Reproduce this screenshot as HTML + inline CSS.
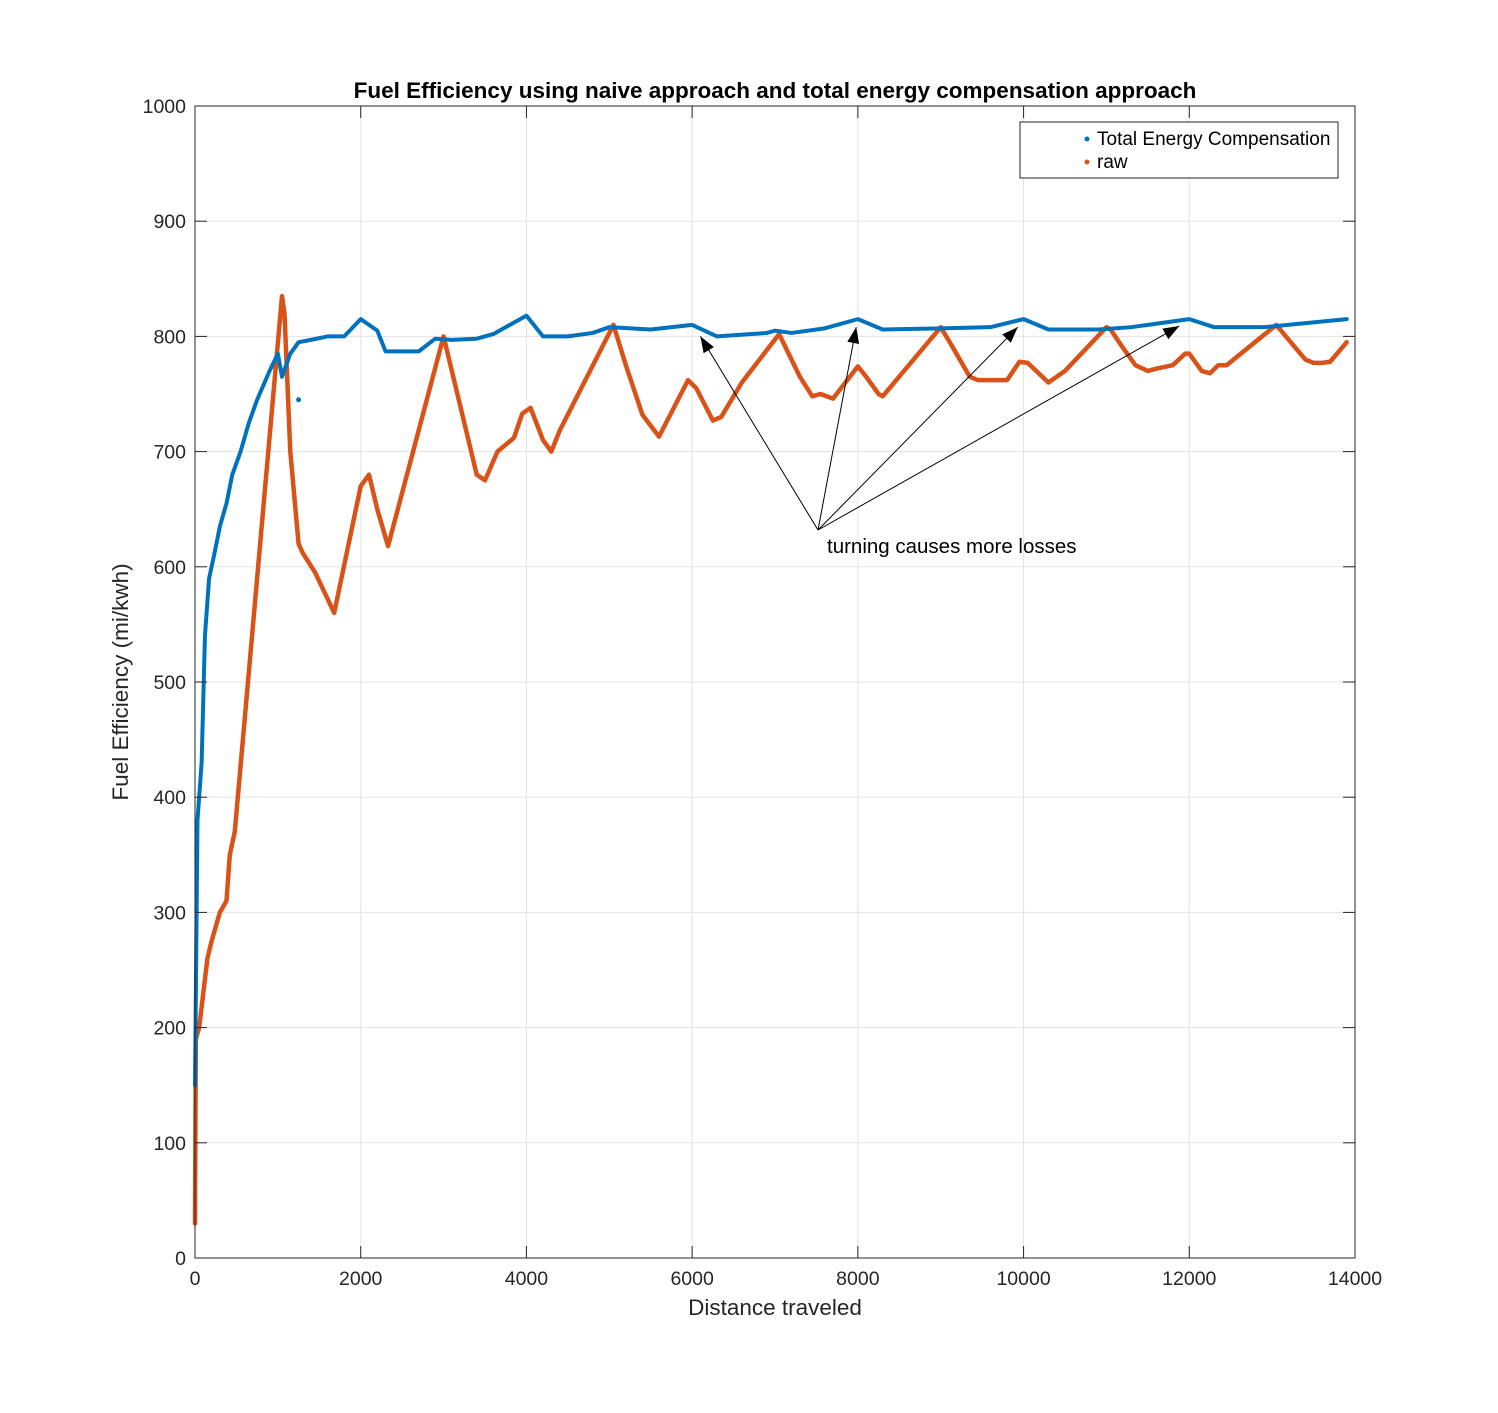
<!DOCTYPE html>
<html><head><meta charset="utf-8"><style>
body{margin:0;background:#fff;}
svg{display:block;font-family:"Liberation Sans",sans-serif;}
</style></head><body>
<svg id="chart" width="1498" height="1413" viewBox="0 0 1498 1413" xmlns="http://www.w3.org/2000/svg">
<rect x="0" y="0" width="1498" height="1413" fill="#fff"/>
<g id="grid"></g>
<g id="series"></g>
<rect x="195" y="106" width="1160" height="1152" fill="none" stroke="#262626" stroke-width="1"/>
<g id="ticks"></g>
<text x="775" y="98" text-anchor="middle" font-size="22.5" font-weight="bold" fill="#000">Fuel Efficiency using naive approach and total energy compensation approach</text>
<text x="775" y="1315" text-anchor="middle" font-size="22.5" fill="#262626">Distance traveled</text>
<text transform="translate(128,682) rotate(-90)" text-anchor="middle" font-size="22.5" fill="#262626">Fuel Efficiency (mi/kwh)</text>
<g id="annot"></g>
<text x="827" y="553" font-size="20.5" fill="#000">turning causes more losses</text>
<g>
<rect x="1020" y="122" width="318" height="56" fill="#fff" stroke="#262626" stroke-width="1"/>
<circle cx="1087" cy="139" r="2.5" fill="#0072bd"/>
<text x="1097" y="145" font-size="19" fill="#000">Total Energy Compensation</text>
<circle cx="1087" cy="162" r="2.5" fill="#d95319"/>
<text x="1097" y="168" font-size="19" fill="#000">raw</text>
</g>
</svg>
<script>
const xTicks=[0,2000,4000,6000,8000,10000,12000,14000];
const yTicks=[0,100,200,300,400,500,600,700,800,900,1000];
const rawX=[0,10,50,100,150,200,300,380,420,480,1050,1080,1150,1250,1300,1450,1680,2000,2100,2200,2330,3000,3200,3400,3500,3650,3850,3950,4050,4200,4300,4400,5050,5200,5400,5600,5950,6050,6250,6350,6600,7050,7300,7450,7550,7700,8000,8100,8250,8300,9000,9150,9350,9450,9800,9950,10050,10300,10500,11000,11050,11200,11350,11500,11600,11800,11950,12000,12150,12250,12350,12450,13050,13200,13400,13500,13600,13700,13900];
const rawY=[30,190,200,230,260,275,300,310,350,370,835,820,700,620,612,595,560,670,680,650,618,800,740,680,675,700,712,733,738,710,700,718,810,775,732,713,762,755,727,730,760,802,765,748,750,746,774,765,750,748,808,790,765,762,762,778,777,760,770,808,806,790,775,770,772,775,785,785,770,768,775,775,810,797,780,777,777,778,795];
const tecX=[0,30,80,120,170,230,300,380,450,550,650,750,900,1000,1050,1150,1250,1400,1600,1800,2000,2200,2300,2500,2700,2900,3100,3400,3600,3800,4000,4200,4500,4800,5000,5500,6000,6300,6900,7000,7200,7600,8000,8300,9000,9600,10000,10300,10900,11300,12000,12300,12900,13900];
const tecY=[150,380,430,540,590,610,635,655,680,700,725,745,770,785,765,785,795,797,800,800,815,805,787,787,787,798,797,798,802,810,818,800,800,803,808,806,810,800,803,805,803,807,815,806,807,808,815,806,806,808,815,808,808,815];
const arrowTargets=[[6100,800],[7980,808],[9930,808],[11880,809]];
const X=v=>195+v*1160/14000, Y=v=>1258-v*1152/1000;
const NS='http://www.w3.org/2000/svg';
function mk(t,a,p){const e=document.createElementNS(NS,t);for(const k in a)e.setAttribute(k,a[k]);p.appendChild(e);return e;}
const grid=document.getElementById('grid'),ticks=document.getElementById('ticks'),series=document.getElementById('series'),annot=document.getElementById('annot');
xTicks.forEach(v=>{const x=X(v);
 const g=mk('line',{x1:x,x2:x,y1:106,y2:1258,stroke:'#e3e3e3','stroke-width':1},grid);
 
 
 mk('line',{x1:x,x2:x,y1:1258,y2:1246,stroke:'#262626'},ticks);
 mk('line',{x1:x,x2:x,y1:106,y2:118,stroke:'#262626'},ticks);
 const t=mk('text',{x:x,y:1285,'text-anchor':'middle','font-size':19.5,fill:'#262626'},ticks);t.textContent=v;
 
 });
yTicks.forEach(v=>{const y=Y(v);
 const g=mk('line',{x1:195,x2:1355,y1:y,y2:y,stroke:'#e3e3e3','stroke-width':1},grid);
 
 
 mk('line',{x1:195,x2:207,y1:y,y2:y,stroke:'#262626'},ticks);
 mk('line',{x1:1355,x2:1343,y1:y,y2:y,stroke:'#262626'},ticks);
 const t=mk('text',{x:186,y:y+7,'text-anchor':'end','font-size':19.5,fill:'#262626'},ticks);t.textContent=v;
 
 });
function line(xs,ys,col,w,name){const p=mk('polyline',{points:xs.map((x,i)=>X(x)+','+Y(ys[i])).join(' '),fill:'none',stroke:col,'stroke-width':w,'stroke-linejoin':'round','stroke-linecap':'round'},series);
 
 }
line(rawX,rawY,'#d95319',4.5,'raw-series');
line(tecX,tecY,'#0072bd',4,'tec-series');
const od=mk('circle',{cx:X(1250),cy:Y(745),r:2.5,fill:'#0072bd'},series);


const sx=818,sy=530;
arrowTargets.forEach(([a,b])=>{const tx=X(a),ty=Y(b);
 const l=mk('line',{x1:sx,y1:sy,x2:tx,y2:ty,stroke:'#000','stroke-width':1},annot);
 
 
 const ang=Math.atan2(ty-sy,tx-sx),L=16,W=6;
 const bx=tx-L*Math.cos(ang),by=ty-L*Math.sin(ang);
 const px=-Math.sin(ang)*W,py=Math.cos(ang)*W;
 mk('polygon',{points:`${tx},${ty} ${bx+px},${by+py} ${bx-px},${by-py}`,fill:'#000'},annot);});
</script>
</body></html>
